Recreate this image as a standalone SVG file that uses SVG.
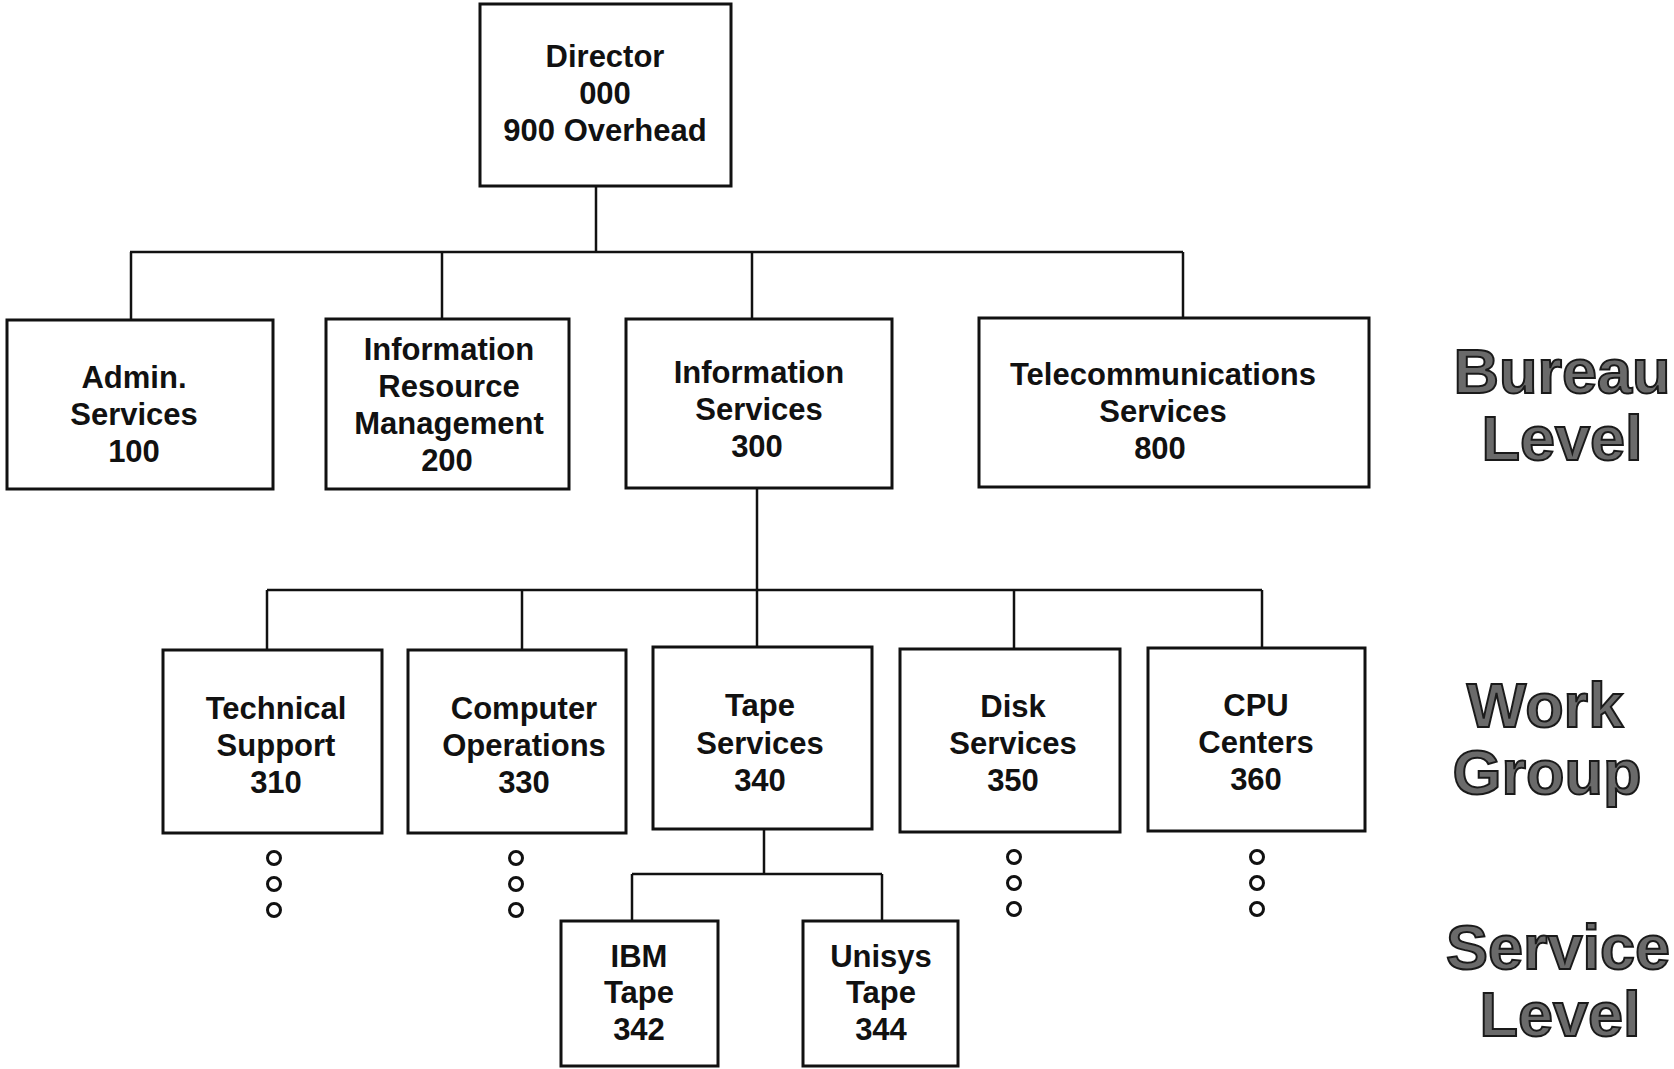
<svg xmlns="http://www.w3.org/2000/svg" width="1674" height="1069" viewBox="0 0 1674 1069">
<style>
  .box { fill: #ffffff; stroke: #111111; stroke-width: 3; }
  .t { font-family: "Liberation Sans", Arial, sans-serif; font-weight: bold; font-size: 31px; fill: #111111; text-anchor: middle; }
  .lvl { font-family: "Liberation Sans", Arial, sans-serif; font-weight: bold; font-size: 63px; fill: #6a6a6a; stroke: #1a1a1a; stroke-width: 2; text-anchor: middle; }
  .conn path { fill: none; stroke: #111111; stroke-width: 2.5; }
  .dot { fill: none; stroke: #111111; stroke-width: 3; }
</style>
<rect width="1674" height="1069" fill="#ffffff"/>

<g id="connectors" class="conn">
  <path d="M596 186 V252"/>
  <path d="M130 252 H1183"/>
  <path d="M131 252 V320"/>
  <path d="M442 252 V319"/>
  <path d="M752 252 V319"/>
  <path d="M1183 252 V318"/>
  <path d="M757 488 V647"/>
  <path d="M267 590 H1262"/>
  <path d="M267 590 V650"/>
  <path d="M522 590 V650"/>
  <path d="M1014 590 V649"/>
  <path d="M1262 590 V648"/>
  <path d="M764 829 V874"/>
  <path d="M632 874 H882"/>
  <path d="M632 874 V921"/>
  <path d="M882 874 V921"/>
</g>

<g id="director">
  <rect class="box" x="480" y="4" width="251" height="182"/>
  <text class="t" x="605" y="67">Director</text>
  <text class="t" x="605" y="104">000</text>
  <text class="t" x="605" y="141">900 Overhead</text>
</g>

<g id="admin">
  <rect class="box" x="7" y="320" width="266" height="169"/>
  <text class="t" x="134" y="388">Admin.</text>
  <text class="t" x="134" y="425">Services</text>
  <text class="t" x="134" y="462">100</text>
</g>

<g id="irm">
  <rect class="box" x="326" y="319" width="243" height="170"/>
  <text class="t" x="449" y="360">Information</text>
  <text class="t" x="449" y="397">Resource</text>
  <text class="t" x="449" y="434">Management</text>
  <text class="t" x="447" y="471">200</text>
</g>

<g id="infoservices">
  <rect class="box" x="626" y="319" width="266" height="169"/>
  <text class="t" x="759" y="383">Information</text>
  <text class="t" x="759" y="420">Services</text>
  <text class="t" x="757" y="457">300</text>
</g>

<g id="telecom">
  <rect class="box" x="979" y="318" width="390" height="169"/>
  <text class="t" x="1163" y="385">Telecommunications</text>
  <text class="t" x="1163" y="422">Services</text>
  <text class="t" x="1160" y="459">800</text>
</g>

<g id="techsupport">
  <rect class="box" x="163" y="650" width="219" height="183"/>
  <text class="t" x="276" y="719">Technical</text>
  <text class="t" x="276" y="756">Support</text>
  <text class="t" x="276" y="793">310</text>
  <circle class="dot" cx="274" cy="858" r="6.5"/>
  <circle class="dot" cx="274" cy="884" r="6.5"/>
  <circle class="dot" cx="274" cy="910" r="6.5"/>
</g>

<g id="compops">
  <rect class="box" x="408" y="650" width="218" height="183"/>
  <text class="t" x="524" y="719">Computer</text>
  <text class="t" x="524" y="756">Operations</text>
  <text class="t" x="524" y="793">330</text>
  <circle class="dot" cx="516" cy="858" r="6.5"/>
  <circle class="dot" cx="516" cy="884" r="6.5"/>
  <circle class="dot" cx="516" cy="910" r="6.5"/>
</g>

<g id="tape">
  <rect class="box" x="653" y="647" width="219" height="182"/>
  <text class="t" x="760" y="716">Tape</text>
  <text class="t" x="760" y="754">Services</text>
  <text class="t" x="760" y="791">340</text>
</g>

<g id="disk">
  <rect class="box" x="900" y="649" width="220" height="183"/>
  <text class="t" x="1013" y="717">Disk</text>
  <text class="t" x="1013" y="754">Services</text>
  <text class="t" x="1013" y="791">350</text>
  <circle class="dot" cx="1014" cy="857" r="6.5"/>
  <circle class="dot" cx="1014" cy="883" r="6.5"/>
  <circle class="dot" cx="1014" cy="909" r="6.5"/>
</g>

<g id="cpu">
  <rect class="box" x="1148" y="648" width="217" height="183"/>
  <text class="t" x="1256" y="716">CPU</text>
  <text class="t" x="1256" y="753">Centers</text>
  <text class="t" x="1256" y="790">360</text>
  <circle class="dot" cx="1257" cy="857" r="6.5"/>
  <circle class="dot" cx="1257" cy="883" r="6.5"/>
  <circle class="dot" cx="1257" cy="909" r="6.5"/>
</g>

<g id="ibmtape">
  <rect class="box" x="561" y="921" width="157" height="145"/>
  <text class="t" x="639" y="967">IBM</text>
  <text class="t" x="639" y="1003">Tape</text>
  <text class="t" x="639" y="1040">342</text>
</g>

<g id="unisystape">
  <rect class="box" x="803" y="921" width="155" height="145"/>
  <text class="t" x="881" y="967">Unisys</text>
  <text class="t" x="881" y="1003">Tape</text>
  <text class="t" x="881" y="1040">344</text>
</g>

<g id="labels">
  <text class="lvl" x="1562" y="393">Bureau</text>
  <text class="lvl" x="1562" y="460">Level</text>
  <text class="lvl" x="1545" y="727">Work</text>
  <text class="lvl" x="1547" y="794">Group</text>
  <text class="lvl" x="1558" y="969">Service</text>
  <text class="lvl" x="1560" y="1036">Level</text>
</g>
</svg>
